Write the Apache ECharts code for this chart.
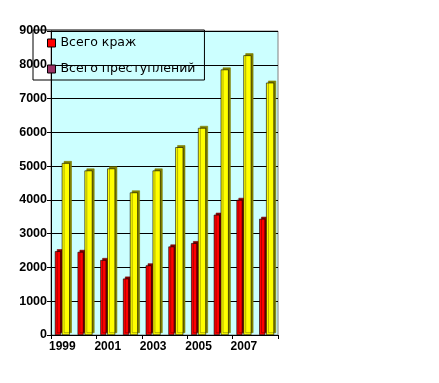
<!DOCTYPE html>
<html><head><meta charset="utf-8">
<script src="https://cdn.jsdelivr.net/npm/echarts@6/dist/echarts.min.js"></script>
<style>html,body{margin:0;padding:0;background:#fff;}#c{width:439px;height:383px;}</style>
</head><body><div id="c"></div>
<script>
var years = ['1999','2000','2001','2002','2003','2004','2005','2006','2007','2008'];
var thefts = [2480, 2460, 2220, 1670, 2060, 2620, 2720, 3560, 4000, 3440];
var crimes = [5090, 4870, 4930, 4220, 4870, 5560, 6130, 7860, 8280, 7470];
var seriesNames = ['Всего краж', 'Всего преступлений'];
var yTicks = [0, 1000, 2000, 3000, 4000, 5000, 6000, 7000, 8000, 9000];

var chart = echarts.init(document.getElementById('c'));
chart.setOption({
  animation: false,
  backgroundColor: '#ffffff',
  grid: { left: 51, right: 161, top: 31, bottom: 48, show: true, backgroundColor: '#CCFFFF', borderColor: '#808080', borderWidth: 1 },
  legend: {
    left: 33, top: 30, orient: 'vertical',
    padding: [6, 9, 4, 14], itemGap: 12,
    itemWidth: 8, itemHeight: 8, icon: 'rect',
    borderColor: '#000', borderWidth: 1, backgroundColor: 'transparent',
    textStyle: { fontFamily: 'DejaVu Sans', fontSize: 12.5, color: '#000', lineHeight: 14 },
    data: [
      { name: seriesNames[0], itemStyle: { color: '#FF0000', borderColor: '#000', borderWidth: 1 } },
      { name: seriesNames[1], itemStyle: { color: '#993366', borderColor: '#000', borderWidth: 1 } }
    ]
  },
  xAxis: {
    type: 'category', data: years,
    axisLine: { lineStyle: { color: '#000', width: 1 } },
    axisTick: { show: true, length: 4, lineStyle: { color: '#000' } },
    axisLabel: { interval: 1, color: '#000', fontFamily: 'Liberation Sans', fontWeight: 'bold', fontSize: 12, margin: 6 }
  },
  yAxis: {
    type: 'value', min: yTicks[0], max: yTicks[yTicks.length - 1], interval: 1000,
    axisLine: { show: true, lineStyle: { color: '#000' } },
    axisTick: { show: true, length: 4, lineStyle: { color: '#000' } },
    axisLabel: { color: '#000', fontFamily: 'Liberation Sans', fontWeight: 'bold', fontSize: 12.5, margin: 4,
      formatter: function (v) { return String(v); } },
    splitLine: { lineStyle: { color: '#000', width: 1 } }
  },
  series: [
    {
      name: seriesNames[0], type: 'bar', data: thefts,
      barWidth: 6, barGap: '15%',
      itemStyle: { color: '#FF0000', borderColor: '#000', borderWidth: 0.6,
        shadowColor: '#800000', shadowOffsetX: 2, shadowOffsetY: -2, shadowBlur: 0 }
    },
    {
      name: seriesNames[1], type: 'bar', data: crimes,
      barWidth: 8,
      itemStyle: { color: '#FFFF00', borderColor: '#000', borderWidth: 0.6,
        shadowColor: '#808000', shadowOffsetX: 2, shadowOffsetY: -2, shadowBlur: 0 }
    }
  ]
});
</script></body></html>
